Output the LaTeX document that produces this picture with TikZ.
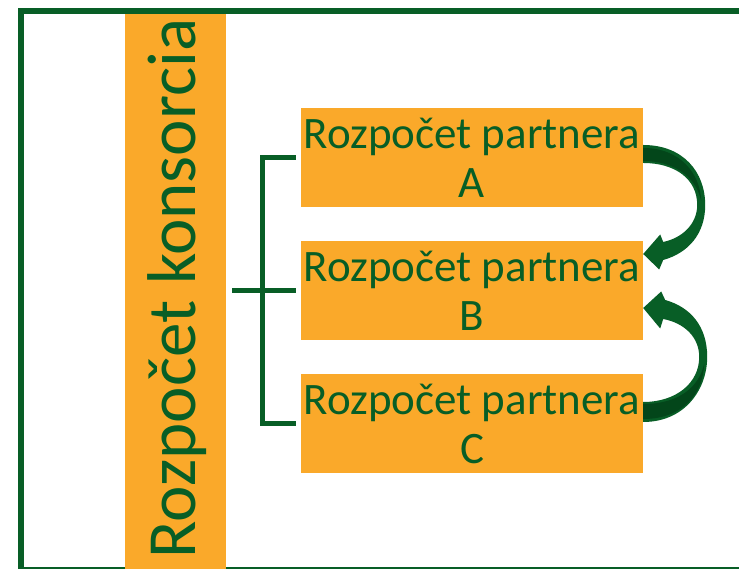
\documentclass[tikz,border=0pt]{standalone}
\usepackage{fontspec}
\setmainfont{Carlito}
\usetikzlibrary{calc}
\definecolor{grn}{RGB}{8,94,38}
\definecolor{grndark}{RGB}{3,70,26}
\definecolor{orng}{RGB}{250,169,42}
\tikzset{
  partbox/.style={fill=orng, text=grn, minimum width=342pt, minimum height=99pt,
    inner sep=0pt, align=center, font=\fontsize{45}{49}\selectfont},
  barbox/.style={fill=orng, minimum width=101pt, minimum height=554.5pt, inner sep=0pt},
  bartext/.style={rotate=90, anchor=base, text=grn, inner sep=0pt,
    font=\fontsize{69}{72}\selectfont},
  link/.style={draw=grn, line width=5pt},
  curvearrow/.style={fill=grn},
  curveback/.style={fill=grndark},
}
\begin{document}
\begin{tikzpicture}[x=1pt,y=1pt]
\useasboundingbox (0,0) rectangle (739,569);

% outer frame
\draw[grn, line width=6pt] (20.5,-1.5) rectangle (746,557.5);

% consortium bar
\node[barbox] (bar) at (175.5,277.25) {};
\node[bartext] (bartitle) at (195,280.5) {Rozpočet konsorcia};

% partner budgets
\node[partbox] (A) at (472,411.5) {Rozpočet partnera\\A};
\node[partbox] (B) at (472,278.5) {Rozpočet partnera\\B};
\node[partbox] (C) at (472,145.5) {Rozpočet partnera\\C};

% bracket joining the partners to the consortium
\draw[link] ([xshift=-5pt]A.west) -- ++(-33,0) |- ([xshift=-5pt]C.west);
\draw[link] ([xshift=6pt]bar.east |- B.west) -- ([xshift=-5pt]B.west);

% curved arrow A -> B
\begin{scope}[shift={(A.east)}]
  \path[curvearrow] (0,12.5) .. controls (40,12.5) and (62,-14.5) .. (62,-47.5)
    .. controls (62,-76.5) and (45,-95.5) .. (20,-102.5)
    -- (16,-112) -- (0,-96.5) -- (17,-77) -- (20,-84.5)
    .. controls (39,-80.5) and (54,-66.5) .. (54,-47.5)
    .. controls (54,-21.5) and (32,-5.5) .. (0,-5.5) -- cycle;
  \path[curveback] (0,9.5) .. controls (37,9.5) and (57,-16) .. (58,-43.5)
    .. controls (53,-20) and (32,-3.5) .. (0,-3.5) -- cycle;
\end{scope}

% curved arrow C -> B
\begin{scope}[shift={(C.east)}]
  \path[curvearrow] (0,1.5) .. controls (42,1.5) and (64,34.5) .. (64,66.5)
    .. controls (64,97.5) and (47,116.5) .. (22,123.5)
    -- (18,132) -- (0,115.5) -- (17,95) -- (20,104.5)
    .. controls (41,100.5) and (56,86.5) .. (56,66.5)
    .. controls (56,40.5) and (33,21.5) .. (0,21.5) -- cycle;
  \path[curveback] (0,4.5) .. controls (40,4.5) and (60,30) .. (61,60)
    .. controls (56,36) and (35,19.5) .. (0,19.5) -- cycle;
\end{scope}
\end{tikzpicture}
\end{document}
